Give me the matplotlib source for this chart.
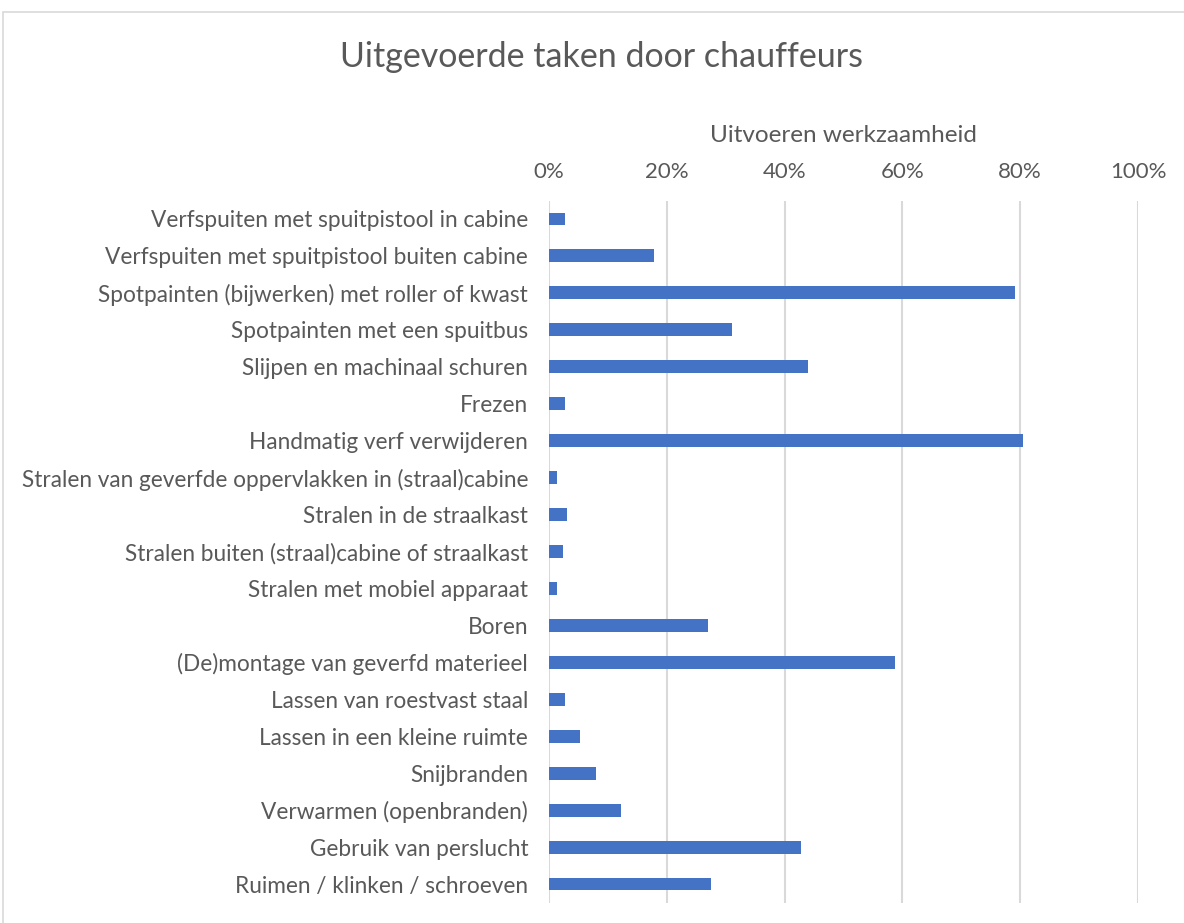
import matplotlib.pyplot as plt
from matplotlib.patches import Rectangle
from matplotlib.ticker import PercentFormatter

plt.rcParams['font.family'] = ['Lato', 'DejaVu Sans']

# Data
taken = [
    "Verfspuiten met spuitpistool in cabine",
    "Verfspuiten met spuitpistool buiten cabine",
    "Spotpainten (bijwerken) met roller of kwast",
    "Spotpainten met een spuitbus",
    "Slijpen en machinaal schuren",
    "Frezen",
    "Handmatig verf verwijderen",
    "Stralen van geverfde oppervlakken in (straal)cabine",
    "Stralen in de straalkast",
    "Stralen buiten (straal)cabine of straalkast",
    "Stralen met mobiel apparaat",
    "Boren",
    "(De)montage van geverfd materieel",
    "Lassen van roestvast staal",
    "Lassen in een kleine ruimte",
    "Snijbranden",
    "Verwarmen (openbranden)",
    "Gebruik van perslucht",
    "Ruimen / klinken / schroeven",
]
percentages = [2.7, 17.8, 79.2, 31.0, 44.0, 2.7, 80.5, 1.4, 3.1, 2.3,
               1.4, 27.0, 58.8, 2.7, 5.3, 7.9, 12.2, 42.7, 27.5]
ticks = [0, 20, 40, 60, 80, 100]

fig = plt.figure(figsize=(11.84, 9.23), dpi=100)

# chart border
fig.patches.append(Rectangle((3 / 1184, -0.01), 1.1, 1 - 12 / 923 + 0.01,
                             transform=fig.transFigure, fill=False,
                             edgecolor='#d9d9d9', linewidth=1.2))

ax = fig.add_axes([549 / 1184, 1 - 902.5 / 923, (1138 - 549) / 1184, (902.5 - 200.5) / 923])

y = list(range(len(taken)))
ax.barh(y, percentages, height=0.35, color='#4472C4', zorder=3)

ax.set_xlim(0, 100)
ax.set_ylim(len(taken) - 0.5, -0.5)
ax.set_xticks(ticks)
ax.xaxis.set_major_formatter(PercentFormatter(decimals=0))
ax.xaxis.tick_top()
ax.xaxis.set_label_position('top')
ax.set_yticks(y)
ax.set_yticklabels(taken)

ax.tick_params(axis='both', length=0, labelsize=16, colors='#595959')
ax.tick_params(axis='y', labelsize=16.3)
ax.tick_params(axis='x', pad=13)
ax.tick_params(axis='y', pad=15)
ax.grid(axis='x', color='#d9d9d9', linewidth=1.5, zorder=0)
for s in ax.spines.values():
    s.set_visible(False)

ax.set_xlabel('Uitvoeren werkzaamheid', fontsize=17.5, color='#595959', labelpad=15)

fig.text(602 / 1184, 1 - 57 / 923, 'Uitgevoerde taken door chauffeurs',
         ha='center', va='center', fontsize=24.5, color='#595959')

fig.savefig('out.png', dpi=100)
